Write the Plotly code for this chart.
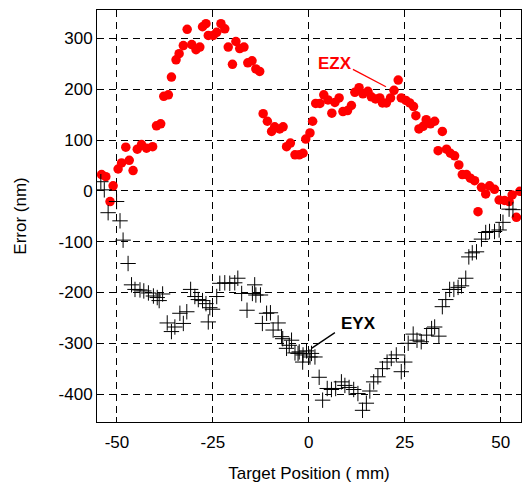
import plotly.graph_objects as go

# EZX series (red dots)
ezx_x = [-54.0,-52.9,-51.8,-51.0,-49.7,-48.8,-47.7,-46.8,-45.8,-44.7,-43.6,-42.3,-40.7,-39.7,-38.6,-37.8,-36.6,-35.8,-34.6,-33.8,
         -32.7,-31.7,-30.5,-29.4,-28.4,-27.7,-26.8,-26.2,-24.9,-24.0,-22.9,-21.9,-21.0,-19.9,-19.0,-18.0,-16.9,-15.9,-14.8,-13.8,
         -12.8,-11.9,-10.8,-9.7,-8.9,-7.6,-6.7,-5.8,-4.8,-3.6,-2.5,-1.5,-0.8,0.3,1.0,1.8,2.9,3.9,5.0,6.0,
         6.8,7.9,8.9,10.1,11.1,12.0,13.1,14.1,15.4,16.3,17.4,18.5,19.2,20.2,21.3,22.2,23.3,24.1,25.3,26.3,
         27.3,27.9,28.7,29.8,30.6,31.7,32.8,33.7,34.8,35.9,36.9,38.0,39.1,40.0,41.1,42.1,43.2,44.1,45.0,46.1,
         47.1,48.4,49.6,51.0,52.2,53.0,54.1,55.0]
ezx_y = [32,28,-21,10,43,55,86,60,40,82,91,84,87,128,132,186,189,224,258,270,
         286,318,288,278,283,323,329,306,306,312,329,319,283,249,294,280,283,252,256,240,
         235,152,137,117,126,122,126,87,94,71,71,74,102,114,137,172,172,189,179,153,
         174,183,156,158,168,194,203,191,196,185,181,183,173,173,183,198,218,183,178,173,
         166,148,122,127,140,132,137,79,117,82,74,69,51,32,32,25,20,-41,7,-6,
         10,3,-18,-19,-21,-8,-52,-1]

# EYX series (black crosses)
eyx_x = [-54.2,-53.3,-52.3,-50.1,-49.2,-48.4,-47.1,-46.2,-45.3,-44.0,-43.0,-41.8,-40.5,-39.5,-39.0,-38.1,-36.9,-35.8,-34.9,-33.6,
         -32.7,-31.8,-30.8,-29.7,-28.8,-27.7,-26.8,-26.2,-25.8,-25.1,-24.0,-23.2,-21.9,-20.6,-19.3,-18.5,-17.5,-16.1,-14.7,-14.1,
         -13.8,-12.6,-12.1,-11.0,-10.0,-9.3,-8.0,-7.1,-6.8,-5.8,-5.1,-4.5,-3.6,-2.8,-2.5,-1.6,-1.5,-0.6,0.3,0.7,
         1.6,2.7,3.6,4.8,5.9,7.0,8.5,9.4,10.5,11.7,12.8,14.0,15.0,15.9,16.9,18.0,19.2,20.4,21.5,22.8,
         24.1,25.0,25.9,27.2,28.2,29.3,30.7,32.0,32.8,33.9,34.8,35.7,36.7,37.8,38.9,39.8,40.9,41.7,42.6,43.7,
         45.0,46.1,47.1,48.4,49.6,50.6,52.2,53.2]
eyx_y = [18,2,-43,-21,-59,-97,-143,-185,-194,-195,-197,-201,-207,-210,-216,-203,-260,-277,-268,-241,
         -261,-238,-194,-208,-214,-216,-222,-258,-230,-233,-208,-182,-181,-182,-181,-172,-202,-235,-202,-185,
         -205,-205,-261,-241,-240,-274,-260,-287,-291,-310,-304,-294,-319,-320,-317,-337,-323,-315,-327,-320,
         -327,-367,-412,-389,-391,-389,-376,-383,-387,-391,-399,-432,-418,-394,-376,-366,-350,-337,-330,-323,
         -356,-337,-300,-282,-294,-297,-284,-271,-268,-286,-228,-214,-194,-194,-190,-187,-172,-130,-122,-120,
         -95,-82,-80,-80,-77,-62,-36,-37]

x_ticks = [-50, -25, 0, 25, 50]
x_ticklabels = ["-50", "-25", "0", "25", "50"]
y_ticks = [-400, -300, -200, -100, 0, 100, 200, 300]
y_ticklabels = ["-400", "-300", "-200", "-100", "0", "100", "200", "300"]

# label annotations: text position, leader line from -> to
ezx_label = dict(text="EZX", x=6.8, y=250, x0=11.5, y0=239, x1=20.1, y1=205)
eyx_label = dict(text="EYX", x=13.0, y=-262, x0=6.8, y0=-279, x1=0.7, y1=-310)

FONT = "Liberation Sans, Arial, sans-serif"
X_RANGE = [-55.2, 55.3]

fig = go.Figure()
fig.add_trace(go.Scatter(x=eyx_x, y=eyx_y, mode="markers", name="EYX", xaxis="x2",
                         marker=dict(symbol="cross-thin", size=11, color="black",
                                     line=dict(color="black", width=1))))
fig.add_trace(go.Scatter(x=ezx_x, y=ezx_y, mode="markers", name="EZX",
                         marker=dict(symbol="circle", size=9.5, color="#ff0000",
                                     line=dict(width=0))))

for lab, col in ((ezx_label, "#ff0000"), (eyx_label, "black")):
    fig.add_annotation(x=lab["x"], y=lab["y"], text="<b>%s</b>" % lab["text"], showarrow=False,
                       font=dict(family=FONT, size=17, color=col))
    fig.add_shape(type="line", x0=lab["x0"], y0=lab["y0"], x1=lab["x1"], y1=lab["y1"],
                  line=dict(color=col, width=1.3))

tickfont = dict(family=FONT, size=17, color="black")
grid = dict(showgrid=True, gridcolor="black", gridwidth=1, griddash="7px,5px")

fig.update_layout(
    width=522, height=483, margin=dict(l=97, r=1, t=10, b=61),
    paper_bgcolor="white", plot_bgcolor="white", showlegend=False,
    font=dict(family=FONT, size=17, color="black"),
    # main x axis: labels, grid, frame; transparent outside ticks push labels down
    xaxis=dict(range=X_RANGE, tickvals=x_ticks, ticktext=x_ticklabels, tickfont=tickfont,
               ticks="outside", ticklen=5, tickcolor="rgba(0,0,0,0)",
               showline=True, linecolor="black", linewidth=1, mirror=True, zeroline=False,
               title=dict(text="Target Position ( mm)", font=tickfont, standoff=18), **grid),
    # overlay x axis: only the inward tick marks (bottom and top)
    xaxis2=dict(overlaying="x", matches="x", range=X_RANGE, tickvals=x_ticks,
                showticklabels=False, ticks="inside", ticklen=5, tickcolor="black",
                showline=True, linecolor="black", linewidth=1, mirror="ticks",
                showgrid=False, zeroline=False),
    yaxis=dict(range=[-455, 356], tickvals=y_ticks, ticktext=y_ticklabels, tickfont=tickfont,
               ticks="inside", ticklen=5, tickcolor="black",
               showline=True, linecolor="black", linewidth=1, mirror="ticks", zeroline=False,
               title=dict(text="Error (nm)", font=tickfont, standoff=27), **grid),
)

# remove the default page margin so the figure fills the window exactly
fig.write_html("out.html", config={"displayModeBar": False},
               post_script="document.body.style.margin='0';document.body.style.overflow='hidden';")
